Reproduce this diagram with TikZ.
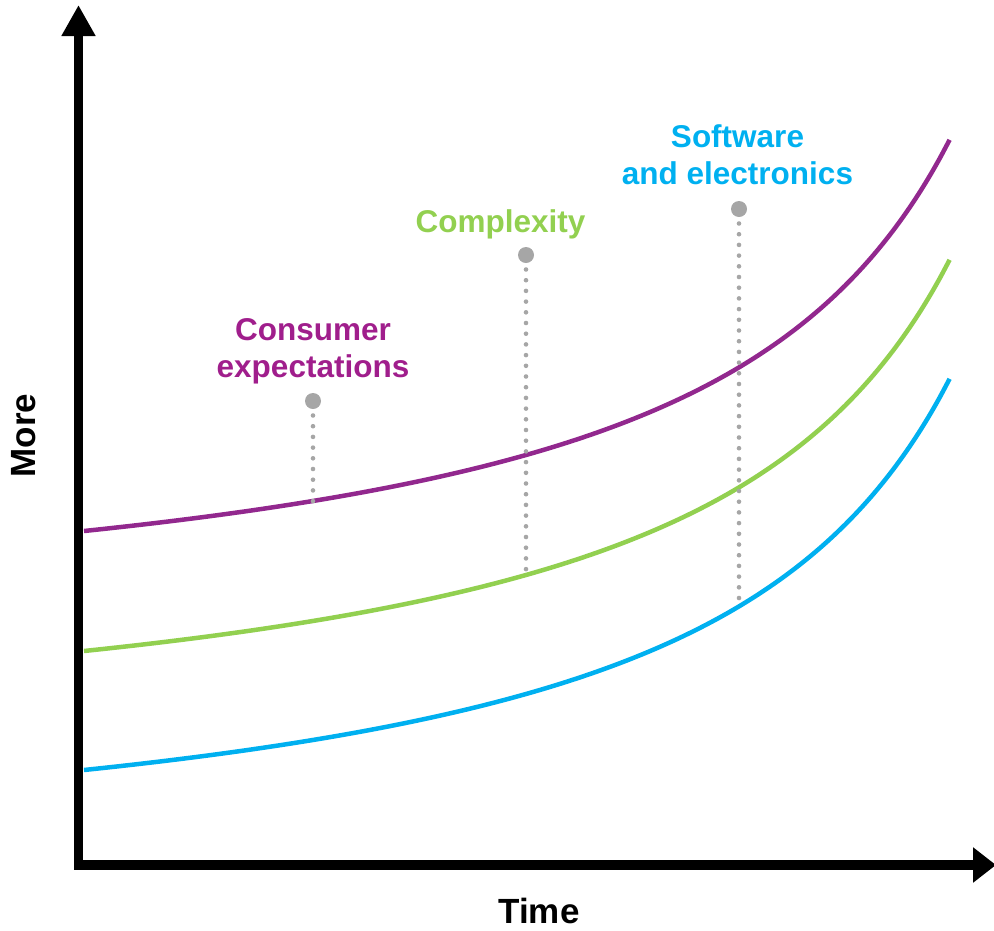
\documentclass[tikz,border=0pt]{standalone}
\usepackage{fontspec}
\setmainfont{Liberation Sans}
\usetikzlibrary{arrows.meta, positioning}
\definecolor{expcol}{RGB}{160,30,140}
\definecolor{purplecurve}{RGB}{146,40,142}
\definecolor{greencurve}{RGB}{146,208,80}
\definecolor{bluecurve}{RGB}{0,176,240}
\definecolor{dotgray}{RGB}{166,166,166}
\tikzset{
   myaxis/.style={line width=9.5pt},
   mycurve/.style={line width=4.5pt},
   mylabel/.style={font=\bfseries\fontsize{31.5}{37}\selectfont, align=center, inner sep=0pt, text depth=0pt},
   myaxlabel/.style={font=\bfseries\fontsize{35}{42}\selectfont, inner sep=0pt},
   mydot/.style={circle, fill=dotgray, inner sep=0pt, minimum size=16pt},
   mydrop/.style={dotgray, line width=4.6pt, line cap=round, dash pattern=on 0pt off 10.7pt, dash phase=4.4pt}
}

\begin{document}
\begin{tikzpicture}[x=1pt, y=-1pt]
   \useasboundingbox (0,0) rectangle (994,930);
   % three growth curves, same shape shifted down
   \foreach \col/\dy in {purplecurve/0, greencurve/120, bluecurve/239}{
      \draw[mycurve, \col, yshift=-\dy pt] plot[domain=0:1, samples=90, variable=\t, smooth]
         ({84+866*\t}, {531-117.6*\t/(1.3-\t)});
   }
   % axes
   \coordinate (origin) at (78.5,866);
   \coordinate (ytop) at (78.5,5);
   \coordinate (xleft) at (74,865);
   \coordinate (xend) at (996,865);
   \draw[myaxis, -{Triangle[width=32pt,length=31pt]}] (origin) -- (ytop);
   \draw[myaxis, -{Triangle[width=34pt,length=23pt]}] (xleft) -- (xend);
   \node[myaxlabel, anchor=base] (timelabel) at (539,923) {Time};
   \node[myaxlabel, anchor=base, rotate=90] (morelabel) at (35,435.5) {More};
   % markers
   \node[mydot] (expdot) at (313,401) {};
   \node[mydot] (cpxdot) at (526,255) {};
   \node[mydot] (swdot) at (739,209) {};
   \coordinate (expmeet) at (313,502);
   \coordinate (cpxmeet) at (526,576);
   \coordinate (swmeet) at (739,605);
   \node[mylabel, text=expcol, above=15pt of expdot] (explabel) {Consumer\\expectations};
   \node[mylabel, text=greencurve, above=14pt of cpxdot, xshift=-25.5pt] (cpxlabel) {Complexity};
   \node[mylabel, text=bluecurve, above=16pt of swdot, xshift=-1.5pt] (swlabel) {Software\\and electronics};
   \draw[mydrop] (expdot.south) -- (expmeet);
   \draw[mydrop] (cpxdot.south) -- (cpxmeet);
   \draw[mydrop] (swdot.south) -- (swmeet);
\end{tikzpicture}
\end{document}
